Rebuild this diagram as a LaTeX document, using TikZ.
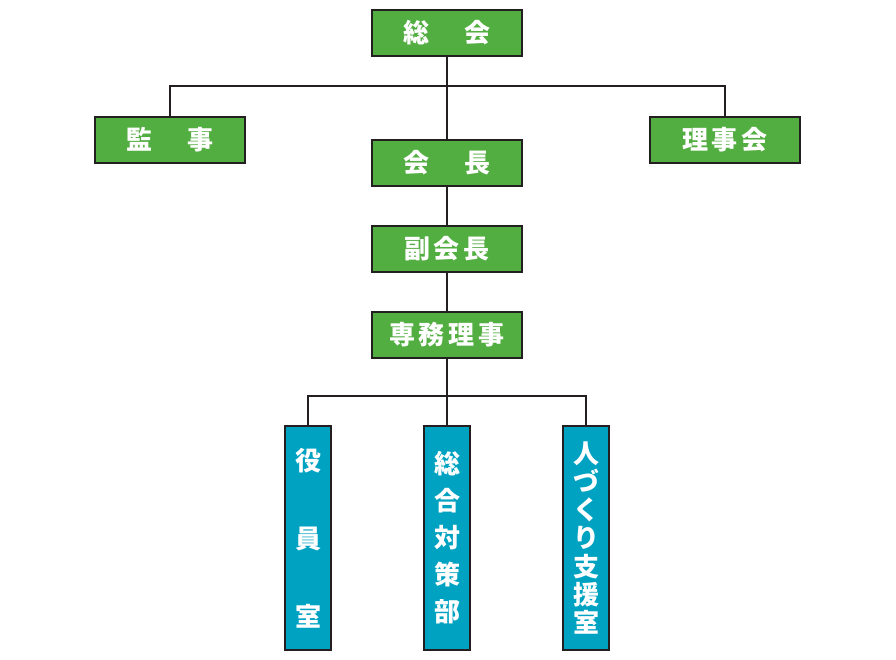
\documentclass[tikz,border=0pt]{standalone}
\usepackage{fontspec}
\usepackage{tikz}
\usetikzlibrary{positioning,calc}
\newfontfamily\jpfont{Noto Sans CJK JP}
\definecolor{org_green}{HTML}{52AE40}
\definecolor{org_blue}{HTML}{00A2C2}
\definecolor{DarkLine}{HTML}{231F20}
\tikzset{
  orgbox/.style={rectangle, draw=DarkLine, line width=1.4pt, fill=org_green, text=white,
    minimum width=150pt, minimum height=46pt, inner sep=0pt,
    font=\jpfont\bfseries\fontsize{26pt}{30pt}\selectfont},
  deptbox/.style={rectangle, draw=DarkLine, line width=1.4pt, fill=org_blue, text=white,
    minimum width=46pt, minimum height=224pt, inner sep=0pt, align=center,
    font=\jpfont\bfseries\fontsize{26pt}{#1}\selectfont},
  deptbox/.default=37pt,
  link/.style={draw=DarkLine, line width=1.2pt},
}
\newcommand{\ks}{\hspace{4pt}}
\newcommand{\gap}{\hspace{36pt}}

\begin{document}
\begin{tikzpicture}[x=1pt, y=-1pt]
  \useasboundingbox (0,0) rectangle (896,660);

  % --- upper part ----------------------------------------------------------
  \node[orgbox] (soukai)   at (447,33)    {総\gap 会};
  \node[orgbox] (kanji)    at (170,140)   {監\gap 事};
  \node[orgbox] (rijikai)  at (725,140)   {理\ks 事\ks 会};
  \node[orgbox] (kaichou)  at (447,163)   {会\gap 長};
  \node[orgbox] (fuku)     at (447,249)   {副\ks 会\ks 長};
  \node[orgbox] (senmu)    at (447,335)   {専\ks 務\ks 理\ks 事};
  \coordinate (topsplit) at (447,86);

  \draw[link] (soukai) -- (kaichou);
  \draw[link] (kanji.north) |- (topsplit) -| (rijikai.north);
  \draw[link] (kaichou) -- (fuku);
  \draw[link] (fuku) -- (senmu);

  % --- departments ---------------------------------------------------------
  \node[deptbox=78pt]   (yakuin)  at (308,538) {役\\員\\室};
  \node[deptbox=37pt]   (sougou)  at (447,538) {総\\合\\対\\策\\部};
  \node[deptbox=28.3pt] (hitozukuri) at (586,538) {人\\づ\\く\\り\\支\\援\\室};
  \coordinate (lowsplit) at (447,396);

  \draw[link] (senmu) -- (sougou);
  \draw[link] (yakuin.north) |- (lowsplit) -| (hitozukuri.north);

\end{tikzpicture}
\end{document}
